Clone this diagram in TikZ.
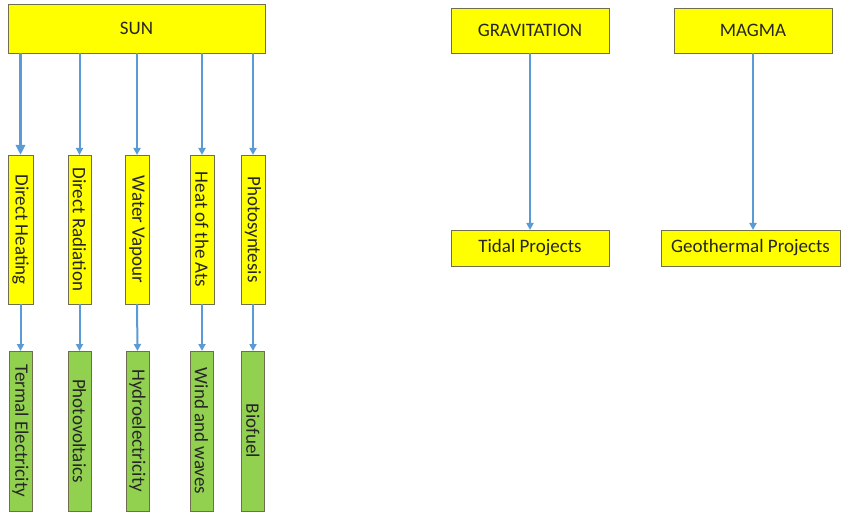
\documentclass[tikz,border=0pt]{standalone}
\usepackage{fontspec}
\setmainfont{Carlito}
\usetikzlibrary{arrows.meta}
\definecolor{boxyellow}{HTML}{FFFF00}
\definecolor{boxgreen}{HTML}{92D050}
\definecolor{boxedge}{HTML}{6F6F50}
\definecolor{arrowblue}{HTML}{5B9BD5}
\begin{document}
\begin{tikzpicture}[x=1pt,y=-1pt,
  every node/.style={inner sep=0pt, outer sep=0pt, font=\fontsize{19}{22}\selectfont, text=black!85},
  ybox/.style={draw=boxedge, line width=0.8pt, fill=boxyellow, rectangle},
  gbox/.style={draw=boxedge, line width=0.8pt, fill=boxgreen, rectangle},
  vmid/.style={ybox, minimum width=24pt, minimum height=149pt},
  vlow/.style={gbox, minimum width=23pt, minimum height=160pt},
  conn/.style={draw=arrowblue, line width=2pt, -{Triangle[length=7pt,width=7pt]}},
  bigconn/.style={draw=arrowblue, line width=2.6pt, -{Triangle[length=10pt,width=9pt]}}
]
\useasboundingbox (0,0) rectangle (841,513);

% SUN branch
\node[ybox, minimum width=257pt, minimum height=49pt] (SUN) at (136.5,28.5) {SUN};

\node[vmid, minimum width=25pt] (DH) at (20.5,229.5) {\rotatebox{-90}{Direct Heating}};
\node[vmid, minimum width=23pt] (DR) at (79.5,229.5) {\rotatebox{-90}{Direct Radiation}};
\node[vmid] (WV) at (137,229.5) {\rotatebox{-90}{Water Vapour}};
\node[vmid] (HA) at (202,229.5) {\rotatebox{-90}{Heat of the Ats}};
\node[vmid] (PH) at (253,229.5) {\rotatebox{-90}{Photosyntesis}};

\node[vlow] (TE) at (20.5,431) {\rotatebox{-90}{Termal Electricity}};
\node[vlow] (PV) at (79.5,431) {\rotatebox{-90}{Photovoltaics}};
\node[vlow] (HY) at (137.5,431) {\rotatebox{-90}{Hydroelectricity}};
\node[vlow] (WW) at (201.5,431) {\rotatebox{-90}{Wind and waves}};
\node[vlow] (BF) at (253,431) {\rotatebox{-90}{Biofuel}};

\draw[bigconn] (DH.north |- SUN.south) -- (DH.north);
\draw[conn] (DR.north |- SUN.south) -- (DR.north);
\draw[conn] (WV.north |- SUN.south) -- (WV.north);
\draw[conn] (HA.north |- SUN.south) -- (HA.north);
\draw[conn] (PH.north |- SUN.south) -- (PH.north);

\draw[conn] (DH.south) -- (TE.north);
\draw[conn] (DR.south) -- (PV.north);
\draw[conn] (WV.south) -- (HY.north);
\draw[conn] (HA.south) -- (HA.south |- WW.north);
\draw[conn] (PH.south) -- (BF.north);

% Gravitation
\node[ybox, minimum width=158pt, minimum height=45pt] (GRAV) at (530,30.5) {GRAVITATION};
\node[ybox, minimum width=158pt, minimum height=36pt] (TIDAL) at (530,248) {Tidal Projects};
\draw[conn] (GRAV.south) -- (TIDAL.north);

% Magma
\node[ybox, minimum width=158pt, minimum height=45pt] (MAGMA) at (753,30.5) {MAGMA};
\node[ybox, minimum width=179pt, minimum height=36pt] (GEO) at (750.5,248) {Geothermal Projects};
\draw[conn] (MAGMA.south) -- (MAGMA.south |- GEO.north);
\end{tikzpicture}
\end{document}
